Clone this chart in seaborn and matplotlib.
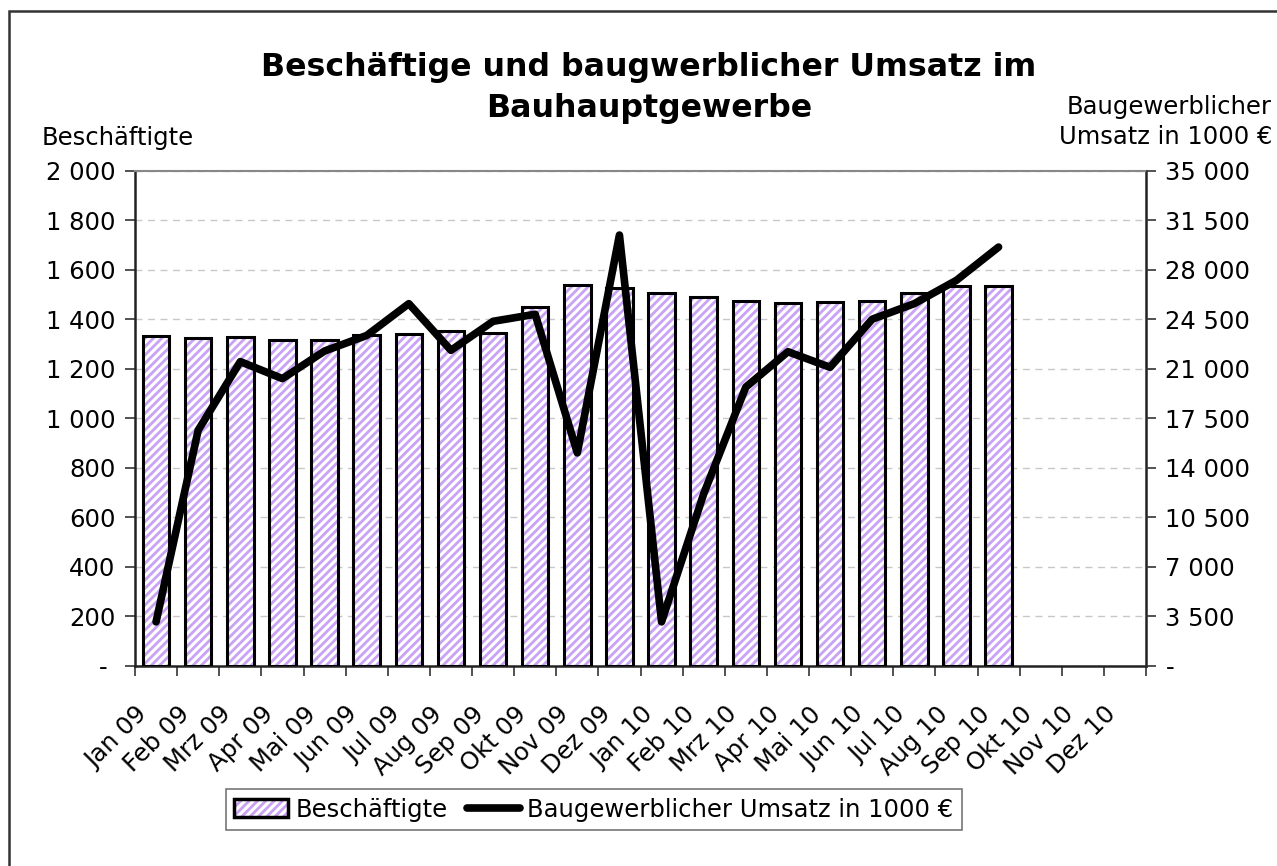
import numpy as np
import pandas as pd
import matplotlib
matplotlib.use("Agg")
import matplotlib.pyplot as plt
import matplotlib.transforms as mtransforms
from matplotlib.patches import Rectangle, Patch
from matplotlib.lines import Line2D
from matplotlib.legend_handler import HandlerTuple
import seaborn as sns

months = ["Jan 09", "Feb 09", "Mrz 09", "Apr 09", "Mai 09", "Jun 09", "Jul 09", "Aug 09",
          "Sep 09", "Okt 09", "Nov 09", "Dez 09", "Jan 10", "Feb 10", "Mrz 10", "Apr 10",
          "Mai 10", "Jun 10", "Jul 10", "Aug 10", "Sep 10", "Okt 10", "Nov 10", "Dez 10"]
beschaeftigte = [1333, 1325, 1328, 1316, 1314, 1337, 1341, 1352, 1344, 1451, 1539,
                 1525, 1506, 1491, 1472, 1465, 1468, 1473, 1504, 1533, 1533]
umsatz = [3100, 16650, 21500, 20300, 22250, 23350, 25600, 22300, 24350, 24850, 15050,
          30450, 3100, 12150, 19700, 22200, 21100, 24500, 25600, 27250, 29600]
left_ticks = list(range(0, 2001, 200))
right_ticks = list(range(0, 35001, 3500))

title = "Beschäftige und baugwerblicher Umsatz im\nBauhauptgewerbe"
left_label = "Beschäftigte"
right_label = "Baugewerblicher\nUmsatz in 1000 €"
series_bar = "Beschäftigte"
series_line = "Baugewerblicher Umsatz in 1000 €"

sns.set_theme(style="white")
plt.rcParams['font.family'] = ['DejaVu Sans']
plt.rcParams['hatch.linewidth'] = 2.0
for k in ["text.color", "axes.labelcolor", "xtick.color", "ytick.color"]:
    plt.rcParams[k] = "black"

FS = 17.5
purple = "#c9a2f5"

fig = plt.figure(figsize=(12.77, 8.66), dpi=100)
ax = fig.add_axes([135/1277, 1-665.7/866, (1146-135)/1277, (665.7-170.7)/866])

df = pd.DataFrame({"Monat": months[:len(beschaeftigte)], "Wert": beschaeftigte})
sns.barplot(data=df, x="Monat", y="Wert", order=months, ax=ax, color="white",
            edgecolor=purple, hatch="////", linewidth=0, width=0.63, zorder=2)
sns.barplot(data=df, x="Monat", y="Wert", order=months, ax=ax, fill=False,
            edgecolor="black", linewidth=2.2, width=0.63, zorder=3)

ax.set_xlim(-0.5, len(months) - 0.5)
ax.set_ylim(0, 2000)
ax.set_yticks(left_ticks)
ax.set_yticklabels(["- " if v == 0 else f"{v:,}".replace(",", " ") for v in left_ticks], fontsize=FS)
ax.yaxis.grid(True, color="#c8c8c8", linestyle=(0, (5, 4)), linewidth=1.0)
ax.set_axisbelow(True)
ax.set_xlabel("")
ax.set_ylabel("")

ax.set_xticks(range(len(months)))
ax.set_xticklabels(months, rotation=45, ha="right", rotation_mode="anchor", fontsize=FS)
ax.tick_params(axis="x", which="major", length=0, pad=26)
shift = mtransforms.ScaledTranslation(-0.21, 0, fig.dpi_scale_trans)
for lbl in ax.get_xticklabels():
    lbl.set_transform(lbl.get_transform() + shift)
ax.set_xticks(np.arange(-0.5, len(months), 1.0), minor=True)
ax.tick_params(axis="x", which="minor", length=7, width=1.2, color="#333333", direction="out", bottom=True)
ax.tick_params(axis="y", length=7, width=1.2, color="#333333", direction="out", left=True, pad=7)

for s in ["left", "bottom", "right"]:
    ax.spines[s].set_color("#222222")
    ax.spines[s].set_linewidth(1.8)
ax.spines["top"].set_color("#888888")
ax.spines["top"].set_linewidth(1.5)

ax2 = ax.twinx()
sns.lineplot(x=np.arange(len(umsatz)), y=umsatz, ax=ax2, color="black", linewidth=5.5,
             solid_joinstyle="round", solid_capstyle="round", zorder=5)
ax2.set_ylim(0, 35000)
ax2.set_yticks(right_ticks)
ax2.set_yticklabels(["-" if v == 0 else f"{v:,}".replace(",", " ") for v in right_ticks], fontsize=FS)
ax2.tick_params(axis="y", length=7, width=1.2, color="#333333", direction="out", right=True, pad=7)
ax2.set_xlim(-0.5, len(months) - 0.5)
ax2.grid(False)
for s in ["left", "bottom", "right", "top"]:
    ax2.spines[s].set_visible(False)
ax2.set_ylabel("")

fig.text(649/1277, 1-88/866, title, ha="center", va="center", fontsize=22.8, fontweight="bold",
         linespacing=1.38)
fig.text(42/1277, 1-138/866, left_label, ha="left", va="center", fontsize=FS)
fig.text(1272/1277, 1-122/866, right_label, ha="right", va="center", fontsize=FS,
         linespacing=1.35)

bar_handle = (Patch(facecolor="white", edgecolor=purple, hatch="////", linewidth=0),
              Patch(fill=False, edgecolor="black", linewidth=2.5))
line_handle = Line2D([0], [0], color="black", linewidth=5.5)
leg = fig.legend([bar_handle, line_handle], [series_bar, series_line], loc="center",
                 bbox_to_anchor=(594/1277, 1-809.5/866), ncol=2, fontsize=FS,
                 frameon=True, fancybox=False, edgecolor="#555555", handlelength=2.2,
                 handleheight=0.7, handletextpad=0.3, columnspacing=0.8, borderpad=0.35,
                 borderaxespad=0, handler_map={tuple: HandlerTuple(ndivide=1, pad=0)})
leg.get_frame().set_linewidth(1.2)

fig.patches.append(Rectangle((9/1277, -0.1), 1.2, 1.1 - 11/866, transform=fig.transFigure,
                             fill=False, edgecolor="#333333", linewidth=1.8))

fig.savefig("out.png", dpi=100, facecolor="white")
